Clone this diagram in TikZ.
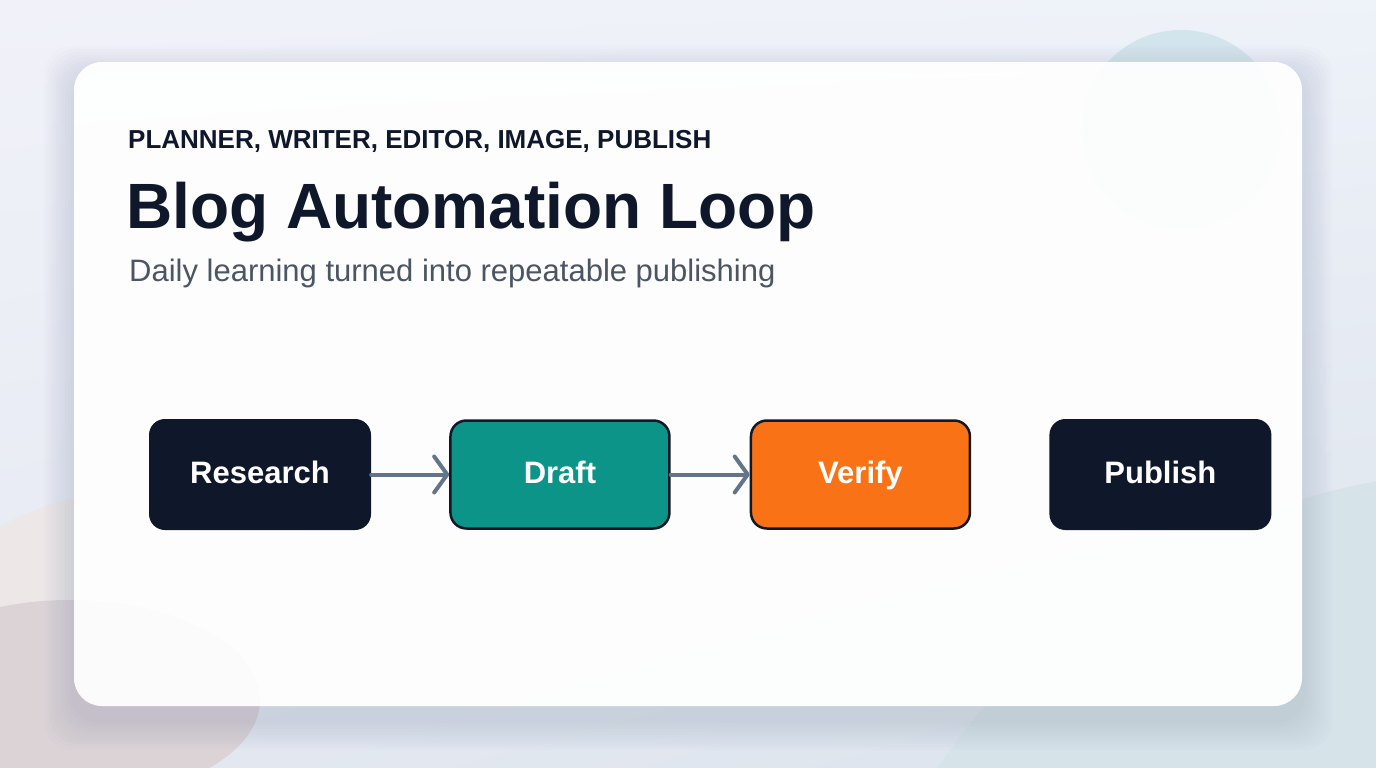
\documentclass[tikz,border=0pt]{standalone}
\usepackage{fontspec}
\setmainfont{Liberation Sans}
\usepackage{xcolor}
\usepackage{tikz}
\usetikzlibrary{arrows.meta,positioning,shadings}
\definecolor{inkdark}{HTML}{0F172A}
\definecolor{draftteal}{HTML}{0D9488}
\definecolor{verifyorange}{HTML}{F97316}
\definecolor{arrowgray}{HTML}{64748B}
\definecolor{subgray}{HTML}{4B5563}
\definecolor{edgedark}{HTML}{111827}
\definecolor{bglav}{HTML}{F1F2F9}
\definecolor{bgblue}{HTML}{E6F1F8}
\definecolor{bgfloor}{HTML}{DCE3EC}
\definecolor{bgmauve}{HTML}{DCD3D7}
\definecolor{bgbeige}{HTML}{EDE7E8}
\definecolor{bgsea}{HTML}{D6E3E9}
\definecolor{bubble}{HTML}{D2E4EC}
\definecolor{shadowblue}{HTML}{7F8CA8}

\begin{document}
\begin{tikzpicture}[
    x=1pt, y=-1pt,
    stage/.style={rounded corners=16pt, minimum width=222pt, minimum height=111pt,
        text height=23pt, text depth=6pt,
        text=white, font=\fontsize{31}{36}\selectfont\bfseries},
    darkstage/.style={stage, fill=inkdark},
    ringstage/.style={stage, draw=edgedark, line width=2.5pt,
        minimum width=219pt, minimum height=108pt},
    flow/.style={draw=arrowgray, line width=4pt, line cap=round,
        -{Straight Barb[length=13pt, width=36pt, round]}},
    >=Stealth
]
\useasboundingbox (0,0) rectangle (1376,768);

% Background
\shade[upper left=bglav, upper right=bglav!70!bgblue, lower left=bglav!40!bgfloor, lower right=bgfloor]
    (0,0) rectangle (1376,768);
\fill[bubble] (1181,130) circle (100);
\fill[bgbeige] (150,600) ellipse (200 and 110);
\fill[bgmauve] (70,700) ellipse (190 and 100);
\fill[bgsea] (1500,1150) circle (680);

% Card shadow, kept off the card
\foreach \s in {3,6,...,30}
    \fill[shadowblue, opacity=0.022, rounded corners=28pt, even odd rule]
        (74-\s,62+14-\s) rectangle (1302+\s,706+14+\s)
        (74,62) rectangle (1302,706);

% Card
\shade[top color=white, bottom color=white!97!bglav, fill opacity=0.93, rounded corners=28pt]
    (74,62) rectangle (1302,706);

% Headings
\node[anchor=base west, inner sep=0, text=inkdark, font=\fontsize{26}{30}\selectfont\bfseries]
    (roles) at (128,148) {PLANNER, WRITER, EDITOR, IMAGE, PUBLISH};
\node[anchor=base west, inner sep=0, text=inkdark, font=\fontsize{64}{72}\selectfont\bfseries]
    (title) at (126,228) {Blog Automation Loop};
\node[anchor=base west, inner sep=0, text=subgray, font=\fontsize{31}{36}\selectfont]
    (subtitle) at (129,281) {Daily learning turned into repeatable publishing};

% Stages
\node[darkstage] (research) at (260,474.5) {Research};
\node[ringstage, fill=draftteal, right=78pt of research] (draft) {Draft};
\node[ringstage, fill=verifyorange, right=79pt of draft] (verify) {Verify};
\node[darkstage, right=78pt of verify] (publish) {Publish};

% Flow
\draw[flow] (research) -- (draft);
\draw[flow] (draft) -- (verify);

\end{tikzpicture}
\end{document}
